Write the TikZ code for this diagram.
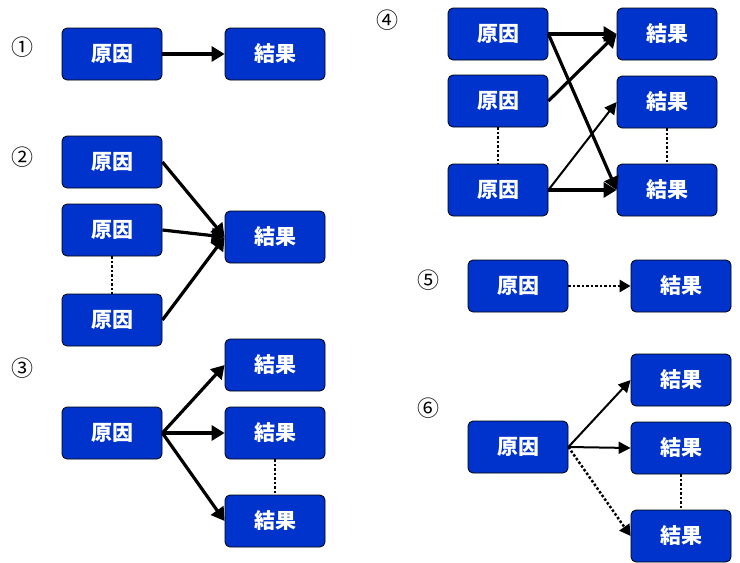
\documentclass[tikz,border=0pt]{standalone}
\usepackage{fontspec}
\newfontfamily\cjk{Noto Sans CJK JP}
\usetikzlibrary{arrows.meta}
\begin{document}
\begin{tikzpicture}[x=1pt,y=-1pt,
 box/.style={draw=black,line width=0.8pt,fill={rgb,255:red,0;green,51;blue,204},rounded corners=5pt,minimum width=100pt,minimum height=52pt,inner sep=0pt,text=white,font=\cjk\bfseries\fontsize{21}{21}\selectfont},
 num/.style={font=\cjk\fontsize{22}{22}\selectfont},
 arr/.style={line width=3.2pt,-{Triangle[length=13pt,width=15pt]}},
 tarr/.style={line width=2pt,-{Triangle[length=12pt,width=12pt]}},
 darr/.style={line width=2.5pt,dotted,-{Triangle[length=11pt,width=12pt]}},
 dots/.style={line width=2.5pt,dotted}]
\useasboundingbox (0,0) rectangle (740,563);
% 1
\node[num] (n1) at (22,47) {①};
\node[box] (a1) at (112,54) {原因};
\node[box] (b1) at (275,54) {結果};
\draw[arr] (a1) -- (b1);
% 2
\node[num] (n2) at (22,157) {②};
\node[box] (a2a) at (112,162) {原因};
\node[box] (a2b) at (112,230) {原因};
\node[box] (a2c) at (112,320) {原因};
\node[box] (b2) at (275,237) {結果};
\draw[arr] (a2a.east) -- (b2.west);
\draw[arr] (a2b.east) -- (b2.west);
\draw[arr] (a2c.east) -- (b2.west);
\draw[dots] (a2b.south) -- (a2c.north);
% 3
\node[num] (n3) at (22,368) {③};
\node[box] (a3) at (112,433) {原因};
\node[box] (b3a) at (275,365) {結果};
\node[box] (b3b) at (275,433) {結果};
\node[box] (b3c) at (275,521) {結果};
\draw[arr] (a3.east) -- (b3a.west);
\draw[arr] (a3.east) -- (b3b.west);
\draw[arr] (a3.east) -- (b3c.west);
\draw[dots] (b3b.south) -- (b3c.north);
% 4
\node[num] (n4) at (387,20) {④};
\node[box] (a4a) at (498,34) {原因};
\node[box] (a4b) at (498,101) {原因};
\node[box] (a4c) at (498,190) {原因};
\node[box] (b4a) at (667,34) {結果};
\node[box] (b4b) at (667,102) {結果};
\node[box] (b4c) at (667,190) {結果};
\draw[arr] (a4a.east) -- (b4a.west);
\draw[arr] (a4a.east) -- (b4c.west);
\draw[arr] (a4b.east) -- (b4a.west);
\draw[tarr] (a4c.east) -- (b4b.west);
\draw[arr] (a4c.east) -- (b4c.west);
\draw[dots] (a4b.south) -- (a4c.north);
\draw[dots] (b4b.south) -- (b4c.north);
% 5
\node[num] (n5) at (428,280) {⑤};
\node[box] (a5) at (518,286) {原因};
\node[box] (b5) at (681,286) {結果};
\draw[darr] (a5) -- (b5);
% 6
\node[num] (n6) at (428,408) {⑥};
\node[box] (a6) at (518,447) {原因};
\node[box] (b6a) at (681,380) {結果};
\node[box] (b6b) at (681,448) {結果};
\node[box] (b6c) at (681,536) {結果};
\draw[tarr] (a6.east) -- (b6a.west);
\draw[tarr] (a6.east) -- (b6b.west);
\draw[darr] (a6.east) -- (b6c.west);
\draw[dots] (b6b.south) -- (b6c.north);
\end{tikzpicture}
\end{document}
